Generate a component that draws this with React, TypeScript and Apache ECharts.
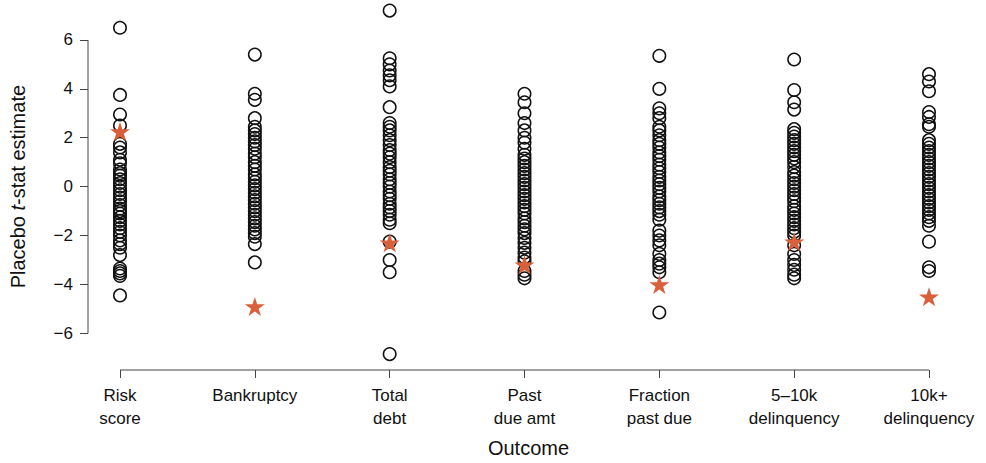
import React, { useEffect, useRef } from "react";
import * as echarts from "echarts";

const categories = [
  "Risk\nscore",
  "Bankruptcy",
  "Total\ndebt",
  "Past\ndue amt",
  "Fraction\npast due",
  "5–10k\ndelinquency",
  "10k+\ndelinquency",
];

const riskScore = [6.5, 3.75, 2.95, 2.5, 1.75, 1.6, 1.4, 1.1, 0.95, 0.7, 0.55, 0.45, 0.3, 0.15, 0.0, -0.15, -0.3, -0.45, -0.6, -0.75, -0.9, -1.0, -1.1, -1.25, -1.4, -1.55, -1.7, -1.85, -2.0, -2.2, -2.35, -2.5, -2.8, -3.35, -3.45, -3.55, -3.65, -4.45];
const bankruptcy = [5.4, 3.8, 3.55, 2.8, 2.45, 2.3, 2.15, 2.0, 1.85, 1.7, 1.55, 1.35, 1.2, 1.0, 0.85, 0.7, 0.5, 0.35, 0.2, 0.05, -0.1, -0.25, -0.4, -0.55, -0.7, -0.85, -1.0, -1.15, -1.3, -1.45, -1.6, -1.75, -1.9, -2.05, -2.35, -3.1];
const totalDebt = [7.2, 5.25, 5.0, 4.75, 4.55, 4.35, 4.1, 3.25, 2.6, 2.45, 2.3, 2.1, 1.9, 1.7, 1.5, 1.35, 1.2, 1.0, 0.8, 0.65, 0.5, 0.3, 0.15, 0.0, -0.2, -0.35, -0.5, -0.7, -0.85, -1.0, -1.15, -1.35, -1.5, -2.25, -3.0, -3.5, -6.85];
const pastDueAmt = [3.8, 3.45, 3.0, 2.6, 2.3, 2.0, 1.8, 1.55, 1.3, 1.15, 1.0, 0.85, 0.7, 0.55, 0.4, 0.25, 0.1, -0.05, -0.2, -0.35, -0.5, -0.65, -0.8, -0.95, -1.1, -1.3, -1.45, -1.6, -1.75, -1.9, -2.1, -2.3, -2.5, -2.7, -2.9, -3.05, -3.45, -3.6, -3.75];
const fractionPastDue = [5.35, 4.0, 3.2, 3.0, 2.8, 2.45, 2.3, 2.1, 1.9, 1.75, 1.6, 1.4, 1.25, 1.1, 0.9, 0.75, 0.6, 0.4, 0.25, 0.1, -0.05, -0.2, -0.4, -0.55, -0.7, -0.85, -1.0, -1.15, -1.35, -1.8, -2.0, -2.2, -2.4, -2.75, -3.0, -3.15, -3.3, -3.5, -5.15];
const delinq5to10k = [5.2, 3.95, 3.45, 3.15, 2.35, 2.2, 2.05, 1.9, 1.75, 1.6, 1.45, 1.3, 1.15, 1.0, 0.8, 0.6, 0.45, 0.3, 0.15, 0.0, -0.15, -0.3, -0.45, -0.6, -0.8, -0.95, -1.1, -1.25, -1.4, -1.55, -1.7, -1.85, -2.0, -2.4, -2.75, -3.0, -3.2, -3.4, -3.6, -3.75];
const delinq10kPlus = [4.6, 4.3, 3.9, 3.05, 2.85, 2.55, 2.45, 1.9, 1.75, 1.6, 1.45, 1.3, 1.15, 1.0, 0.85, 0.7, 0.55, 0.4, 0.25, 0.1, -0.05, -0.2, -0.35, -0.5, -0.65, -0.8, -0.95, -1.1, -1.25, -1.4, -1.6, -2.25, -3.3, -3.45];

const placeboColumns = [riskScore, bankruptcy, totalDebt, pastDueAmt, fractionPastDue, delinq5to10k, delinq10kPlus];

// actual estimates (stars)
const actualEstimates = [2.25, -4.9, -2.3, -3.2, -4.0, -2.25, -4.5];

const yTicks = [-6, -4, -2, 0, 2, 4, 6];
const xTicks = [0, 1, 2, 3, 4, 5, 6];

const STAR =
  "path://M0,-1L0.2245,-0.309L0.951,-0.309L0.363,0.118L0.588,0.809L0,0.382L-0.588,0.809L-0.363,0.118L-0.951,-0.309L-0.2245,-0.309Z";

export default function App() {
  const ref = useRef<HTMLDivElement>(null);
  useEffect(() => {
    document.body.style.margin = "0";
    if (!ref.current) return;
    const chart = echarts.init(ref.current, null, { renderer: "svg" });
    const X_MIN = -0.2373;
    const X_MAX = 6.2967;
    const Y_MIN = -7.5;
    const Y_MAX = 7.5;
    const font = "'Liberation Sans', Arial, Helvetica, sans-serif";
    const axisColor = "#444";

    const circleData: number[][] = [];
    placeboColumns.forEach((col, i) => col.forEach((v) => circleData.push([i, v])));
    const starData = actualEstimates.map((v, i) => [i, v]);

    chart.setOption({
      animation: false,
      textStyle: { fontFamily: font },
      grid: { left: 88, right: 17, top: 3.25, bottom: 92.25, containLabel: false },
      xAxis: {
        type: "value",
        min: X_MIN,
        max: X_MAX,
        axisLine: { show: false, onZero: false },
        splitLine: { show: false },
        axisTick: {
          show: true,
          customValues: xTicks,
          length: 8,
          lineStyle: { color: axisColor, width: 1 },
        },
        axisLabel: {
          customValues: xTicks,
          formatter: (v: number) => categories[Math.round(v)] ?? "",
          fontSize: 17,
          lineHeight: 23,
          margin: 14,
          color: "#111",
          fontFamily: font,
        },
        name: "Outcome",
        nameLocation: "middle",
        nameGap: 68,
        nameTextStyle: { fontSize: 20, color: "#111", fontFamily: font },
      },
      yAxis: {
        type: "value",
        min: Y_MIN,
        max: Y_MAX,
        axisLine: { show: false, onZero: false },
        splitLine: { show: false },
        axisTick: {
          show: true,
          customValues: yTicks,
          length: 8,
          lineStyle: { color: axisColor, width: 1 },
        },
        axisLabel: {
          customValues: yTicks,
          formatter: (v: number) => (v < 0 ? "\u2212" + Math.abs(v) : String(v)),
          fontSize: 17,
          margin: 15,
          color: "#111",
          fontFamily: font,
        },
        name: "{a|Placebo }{b|t}{a|-stat estimate}",
        nameLocation: "middle",
        nameGap: 60,
        nameTextStyle: {
          fontSize: 20,
          color: "#111",
          fontFamily: font,
          rich: {
            a: { fontSize: 20, color: "#111", fontFamily: font },
            b: { fontSize: 20, color: "#111", fontFamily: font, fontStyle: "italic" },
          },
        },
      },
      series: [
        {
          type: "custom",
          silent: true,
          clip: false,
          z: 1,
          data: [[0, 0]],
          renderItem: (_params: any, api: any) => {
            const yTop = api.coord([X_MIN, yTicks[yTicks.length - 1]]);
            const yBot = api.coord([X_MIN, yTicks[0]]);
            const xL = api.coord([xTicks[0], Y_MIN]);
            const xR = api.coord([xTicks[xTicks.length - 1], Y_MIN]);
            return {
              type: "group",
              children: [
                {
                  type: "line",
                  shape: { x1: yTop[0], y1: yTop[1], x2: yBot[0], y2: yBot[1] },
                  style: { stroke: axisColor, lineWidth: 1 },
                },
                {
                  type: "line",
                  shape: { x1: xL[0], y1: xL[1], x2: xR[0], y2: xR[1] },
                  style: { stroke: axisColor, lineWidth: 1 },
                },
              ],
            };
          },
        },
        {
          type: "scatter",
          data: circleData,
          symbol: "circle",
          symbolSize: 12.5,
          clip: false,
          silent: true,
          z: 2,
          itemStyle: { color: "rgba(0,0,0,0)", borderColor: "#111", borderWidth: 1.5, opacity: 1 },
          emphasis: { disabled: true },
        },
        {
          type: "scatter",
          data: starData,
          symbol: STAR,
          symbolSize: [20, 19],
          clip: false,
          silent: true,
          z: 3,
          itemStyle: { color: "#d9603b", borderWidth: 0, opacity: 1 },
          emphasis: { disabled: true },
        },
      ],
    });
    return () => chart.dispose();
  }, []);
  return <div ref={ref} style={{ width: 986, height: 463 }} />;
}
